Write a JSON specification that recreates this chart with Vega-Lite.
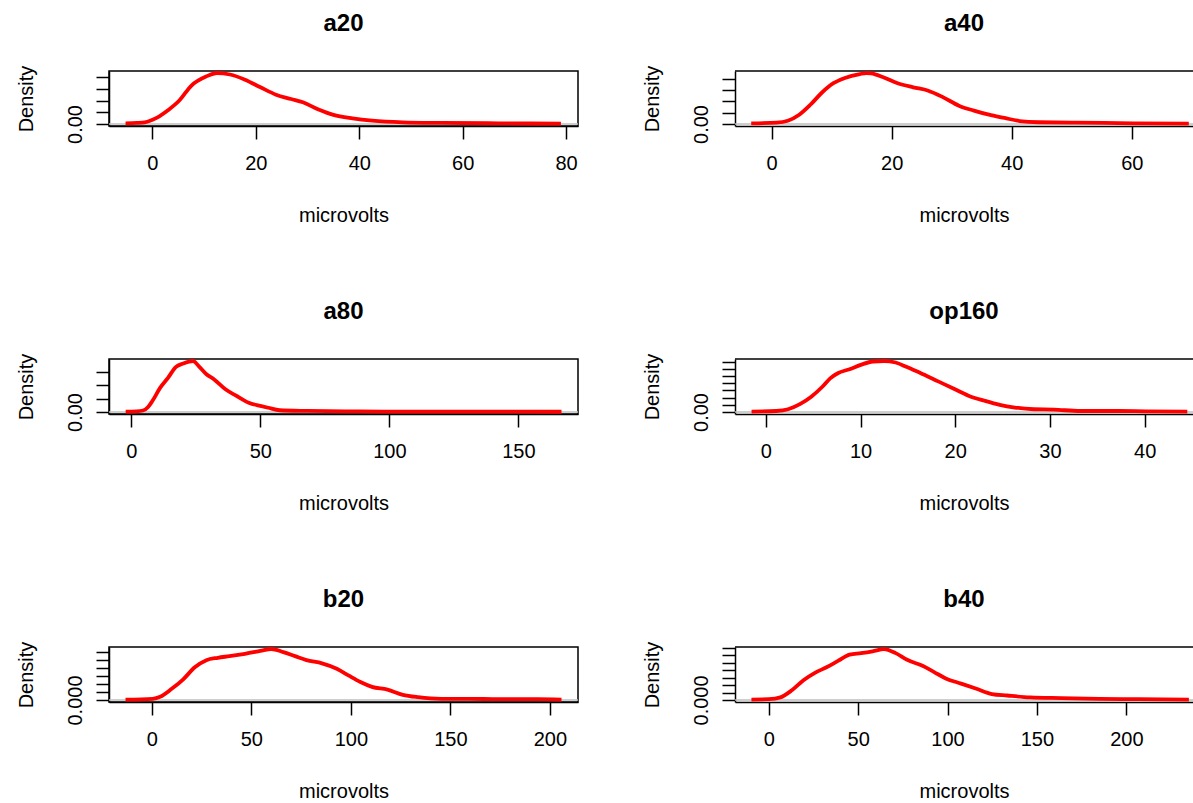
{
  "$schema": "https://vega.github.io/schema/vega-lite/v6.json",
  "padding": {"left": 15, "top": 11, "right": 0, "bottom": 0},
  "background": "white",
  "datasets": {
    "a20": [
      {"mv": -5.2, "density": 0.0006}, {"mv": -3, "density": 0.0009}, {"mv": -1.5, "density": 0.0014},
      {"mv": 0.8, "density": 0.0052}, {"mv": 3.0, "density": 0.0117}, {"mv": 5.2, "density": 0.02},
      {"mv": 7.5, "density": 0.0326}, {"mv": 10.4, "density": 0.0405}, {"mv": 12.5, "density": 0.0435},
      {"mv": 15, "density": 0.0422}, {"mv": 17.9, "density": 0.0378}, {"mv": 20.9, "density": 0.0313},
      {"mv": 23.9, "density": 0.025}, {"mv": 26.8, "density": 0.0213}, {"mv": 29.1, "density": 0.0185},
      {"mv": 32, "density": 0.0126}, {"mv": 35, "density": 0.0078}, {"mv": 38.7, "density": 0.0048},
      {"mv": 42.5, "density": 0.0028}, {"mv": 48.4, "density": 0.0014}, {"mv": 55.9, "density": 0.0009},
      {"mv": 67, "density": 0.0006}, {"mv": 79, "density": 0.0003}
    ],
    "a40": [
      {"mv": -3.4, "density": 0.0006}, {"mv": 0.8, "density": 0.0012}, {"mv": 2.7, "density": 0.0029},
      {"mv": 4.6, "density": 0.0082}, {"mv": 6.5, "density": 0.0172}, {"mv": 8.4, "density": 0.0278},
      {"mv": 10.3, "density": 0.036}, {"mv": 12.2, "density": 0.0406}, {"mv": 14.7, "density": 0.0441},
      {"mv": 15.8, "density": 0.045}, {"mv": 16.6, "density": 0.0446}, {"mv": 18.5, "density": 0.0415},
      {"mv": 21.0, "density": 0.036}, {"mv": 23.6, "density": 0.0324}, {"mv": 26.1, "density": 0.0294},
      {"mv": 28.6, "density": 0.0235}, {"mv": 31.2, "density": 0.0162}, {"mv": 33.7, "density": 0.0118},
      {"mv": 36.2, "density": 0.0082}, {"mv": 38.8, "density": 0.0053}, {"mv": 41.3, "density": 0.0026},
      {"mv": 44.5, "density": 0.0015}, {"mv": 50.8, "density": 0.0012}, {"mv": 60.3, "density": 0.0006},
      {"mv": 69.5, "density": 0.0003}
    ],
    "a80": [
      {"mv": -2.2, "density": 0.0003}, {"mv": 2.0, "density": 0.0005}, {"mv": 4.5, "density": 0.0011},
      {"mv": 6.5, "density": 0.0038}, {"mv": 8.2, "density": 0.0084}, {"mv": 11.2, "density": 0.0183},
      {"mv": 14.2, "density": 0.0256}, {"mv": 17.2, "density": 0.0336}, {"mv": 20.1, "density": 0.0363},
      {"mv": 23.9, "density": 0.0382}, {"mv": 26.1, "density": 0.0344}, {"mv": 29.1, "density": 0.0283},
      {"mv": 32.1, "density": 0.0244}, {"mv": 36.6, "density": 0.0168}, {"mv": 41.0, "density": 0.0118},
      {"mv": 45.5, "density": 0.0069}, {"mv": 50.0, "density": 0.0046}, {"mv": 53.0, "density": 0.0032},
      {"mv": 57.5, "density": 0.0013}, {"mv": 68, "density": 0.0008}, {"mv": 82.8, "density": 0.0005},
      {"mv": 97.8, "density": 0.0003}, {"mv": 127.6, "density": 0.0003}, {"mv": 166.7, "density": 0.0002}
    ],
    "op160": [
      {"mv": -1.5, "density": 0.0005}, {"mv": 1.1, "density": 0.0014}, {"mv": 2.35, "density": 0.0038},
      {"mv": 3.6, "density": 0.0109}, {"mv": 4.8, "density": 0.0213}, {"mv": 6.0, "density": 0.0355},
      {"mv": 6.8, "density": 0.0469}, {"mv": 7.6, "density": 0.054}, {"mv": 8.85, "density": 0.0596},
      {"mv": 10.1, "density": 0.066}, {"mv": 11.3, "density": 0.0703}, {"mv": 12.5, "density": 0.071},
      {"mv": 13.7, "density": 0.0689}, {"mv": 14.9, "density": 0.0625}, {"mv": 16.6, "density": 0.0525},
      {"mv": 18.2, "density": 0.0426}, {"mv": 19.8, "density": 0.0327}, {"mv": 21.4, "density": 0.0227},
      {"mv": 23.1, "density": 0.0156}, {"mv": 24.7, "density": 0.0099}, {"mv": 26.3, "density": 0.0062},
      {"mv": 28.3, "density": 0.0038}, {"mv": 30.4, "density": 0.0033}, {"mv": 33.2, "density": 0.0014},
      {"mv": 37.3, "density": 0.0014}, {"mv": 40.1, "density": 0.0009}, {"mv": 44.5, "density": 0.0005}
    ],
    "b20": [
      {"mv": -13.2, "density": 0.0001}, {"mv": 0.4, "density": 0.0003}, {"mv": 4.2, "density": 0.0008},
      {"mv": 10, "density": 0.0028}, {"mv": 15.8, "density": 0.0052}, {"mv": 21.6, "density": 0.0082},
      {"mv": 27.4, "density": 0.01}, {"mv": 33.2, "density": 0.0106}, {"mv": 39, "density": 0.011},
      {"mv": 46.8, "density": 0.0116}, {"mv": 54.5, "density": 0.0123}, {"mv": 60, "density": 0.0128},
      {"mv": 66.1, "density": 0.012}, {"mv": 71.9, "density": 0.011}, {"mv": 77.7, "density": 0.01},
      {"mv": 85.5, "density": 0.0092}, {"mv": 93.2, "density": 0.0078}, {"mv": 99, "density": 0.0061},
      {"mv": 104.8, "density": 0.0045}, {"mv": 110.6, "density": 0.0033}, {"mv": 118.4, "density": 0.0026},
      {"mv": 126.1, "density": 0.0013}, {"mv": 133.8, "density": 0.0007}, {"mv": 145.4, "density": 0.0003},
      {"mv": 159, "density": 0.0003}, {"mv": 174.4, "density": 0.0002}, {"mv": 193.8, "density": 0.0002},
      {"mv": 205.8, "density": 0.0001}
    ],
    "b40": [
      {"mv": -9.7, "density": 0.0001}, {"mv": 0, "density": 0.0002}, {"mv": 6.5, "density": 0.0007},
      {"mv": 12.9, "density": 0.0026}, {"mv": 19.4, "density": 0.0053}, {"mv": 25.8, "density": 0.0073},
      {"mv": 32.3, "density": 0.0088}, {"mv": 38.7, "density": 0.0105}, {"mv": 45.2, "density": 0.0122},
      {"mv": 51.6, "density": 0.0126}, {"mv": 58.1, "density": 0.0131}, {"mv": 64.5, "density": 0.0137},
      {"mv": 71, "density": 0.0126}, {"mv": 77.4, "density": 0.0108}, {"mv": 86, "density": 0.0092},
      {"mv": 92.5, "density": 0.0075}, {"mv": 99, "density": 0.0058}, {"mv": 107.6, "density": 0.0044},
      {"mv": 116.2, "density": 0.003}, {"mv": 124.8, "density": 0.0016}, {"mv": 133.4, "density": 0.0012},
      {"mv": 146.3, "density": 0.0007}, {"mv": 163.5, "density": 0.0005}, {"mv": 185, "density": 0.0003},
      {"mv": 206.5, "density": 0.0002}, {"mv": 235, "density": 0.0001}
    ]
  },
  "columns": 2,
  "align": "each",
  "bounds": "flush",
  "spacing": {"row": 233, "column": 157},
  "concat": [
    {
      "width": 469, "height": 55, "title": "a20",
      "layer": [
        {"data": {"values": [{}]}, "mark": {"type": "rule", "color": "#BEBEBE", "strokeWidth": 1.5}, "encoding": {"y": {"datum": 0, "type": "quantitative"}}},
        {"data": {"name": "a20"}, "mark": {"type": "line", "color": "#FF0000", "strokeWidth": 3.8, "interpolate": "monotone"},
          "encoding": {
            "x": {"field": "mv", "type": "quantitative", "scale": {"domain": [-8.4, 82.3], "nice": false, "zero": false}, "axis": {"title": "microvolts", "values": [0, 20, 40, 60, 80]}},
            "y": {"field": "density", "type": "quantitative", "scale": {"domain": [-0.0017, 0.0452], "nice": false, "zero": false}, "axis": {"title": "Density", "values": [0, 0.01, 0.02, 0.03, 0.04], "labelExpr": "datum.value === 0 ? '0.00' : ''"}}
          }}
      ]
    },
    {
      "width": 458, "height": 55, "title": "a40", "view": {"stroke": null},
      "layer": [
        {"data": {"values": [{}]}, "mark": {"type": "rule", "color": "#BEBEBE", "strokeWidth": 1.5}, "encoding": {"y": {"datum": 0, "type": "quantitative"}}},
        {"data": {"values": [{}]}, "mark": {"type": "rule", "color": "black", "strokeWidth": 1.5}, "encoding": {"y": {"datum": 0.0468, "type": "quantitative"}}},
        {"data": {"name": "a40"}, "mark": {"type": "line", "color": "#FF0000", "strokeWidth": 3.8, "interpolate": "monotone"},
          "encoding": {
            "x": {"field": "mv", "type": "quantitative", "scale": {"domain": [-6.1, 70.2], "nice": false, "zero": false}, "axis": {"title": "microvolts", "values": [0, 20, 40, 60]}},
            "y": {"field": "density", "type": "quantitative", "scale": {"domain": [-0.0018, 0.0468], "nice": false, "zero": false}, "axis": {"title": "Density", "values": [0, 0.01, 0.02, 0.03, 0.04], "labelExpr": "datum.value === 0 ? '0.00' : ''"}}
          }}
      ]
    },
    {
      "width": 469, "height": 55, "title": "a80",
      "layer": [
        {"data": {"values": [{}]}, "mark": {"type": "rule", "color": "#BEBEBE", "strokeWidth": 1.5}, "encoding": {"y": {"datum": 0, "type": "quantitative"}}},
        {"data": {"name": "a80"}, "mark": {"type": "line", "color": "#FF0000", "strokeWidth": 3.8, "interpolate": "monotone"},
          "encoding": {
            "x": {"field": "mv", "type": "quantitative", "scale": {"domain": [-8.66, 173.1], "nice": false, "zero": false}, "axis": {"title": "microvolts", "values": [0, 50, 100, 150]}},
            "y": {"field": "density", "type": "quantitative", "scale": {"domain": [-0.0015, 0.0397], "nice": false, "zero": false}, "axis": {"title": "Density", "values": [0, 0.01, 0.02, 0.03], "labelExpr": "datum.value === 0 ? '0.00' : ''"}}
          }}
      ]
    },
    {
      "width": 458, "height": 55, "title": "op160", "view": {"stroke": null},
      "layer": [
        {"data": {"values": [{}]}, "mark": {"type": "rule", "color": "#BEBEBE", "strokeWidth": 1.5}, "encoding": {"y": {"datum": 0, "type": "quantitative"}}},
        {"data": {"values": [{}]}, "mark": {"type": "rule", "color": "black", "strokeWidth": 1.5}, "encoding": {"y": {"datum": 0.0738, "type": "quantitative"}}},
        {"data": {"name": "op160"}, "mark": {"type": "line", "color": "#FF0000", "strokeWidth": 3.8, "interpolate": "monotone"},
          "encoding": {
            "x": {"field": "mv", "type": "quantitative", "scale": {"domain": [-3.25, 45.1], "nice": false, "zero": false}, "axis": {"title": "microvolts", "values": [0, 10, 20, 30, 40]}},
            "y": {"field": "density", "type": "quantitative", "scale": {"domain": [-0.0028, 0.0738], "nice": false, "zero": false}, "axis": {"title": "Density", "values": [0, 0.01, 0.02, 0.03, 0.04, 0.05, 0.06, 0.07], "labelExpr": "datum.value === 0 ? '0.00' : ''"}}
          }}
      ]
    },
    {
      "width": 469, "height": 55, "title": "b20",
      "layer": [
        {"data": {"values": [{}]}, "mark": {"type": "rule", "color": "#BEBEBE", "strokeWidth": 1.5}, "encoding": {"y": {"datum": 0, "type": "quantitative"}}},
        {"data": {"name": "b20"}, "mark": {"type": "line", "color": "#FF0000", "strokeWidth": 3.8, "interpolate": "monotone"},
          "encoding": {
            "x": {"field": "mv", "type": "quantitative", "scale": {"domain": [-21.5, 214.1], "nice": false, "zero": false}, "axis": {"title": "microvolts", "values": [0, 50, 100, 150, 200]}},
            "y": {"field": "density", "type": "quantitative", "scale": {"domain": [-0.0005, 0.0133], "nice": false, "zero": false}, "axis": {"title": "Density", "values": [0, 0.002, 0.004, 0.006, 0.008, 0.01, 0.012], "labelExpr": "datum.value === 0 ? '0.000' : ''"}}
          }}
      ]
    },
    {
      "width": 458, "height": 55, "title": "b40", "view": {"stroke": null},
      "layer": [
        {"data": {"values": [{}]}, "mark": {"type": "rule", "color": "#BEBEBE", "strokeWidth": 1.5}, "encoding": {"y": {"datum": 0, "type": "quantitative"}}},
        {"data": {"values": [{}]}, "mark": {"type": "rule", "color": "black", "strokeWidth": 1.5}, "encoding": {"y": {"datum": 0.01425, "type": "quantitative"}}},
        {"data": {"name": "b40"}, "mark": {"type": "line", "color": "#FF0000", "strokeWidth": 3.8, "interpolate": "monotone"},
          "encoding": {
            "x": {"field": "mv", "type": "quantitative", "scale": {"domain": [-18.9, 237.3], "nice": false, "zero": false}, "axis": {"title": "microvolts", "values": [0, 50, 100, 150, 200]}},
            "y": {"field": "density", "type": "quantitative", "scale": {"domain": [-0.00055, 0.01425], "nice": false, "zero": false}, "axis": {"title": "Density", "values": [0, 0.002, 0.004, 0.006, 0.008, 0.01, 0.012, 0.014], "labelExpr": "datum.value === 0 ? '0.000' : ''"}}
          }}
      ]
    }
  ],
  "config": {
    "view": {"stroke": "black", "strokeWidth": 1.5},
    "axis": {
      "grid": false, "domain": true, "domainColor": "black", "domainWidth": 1.5,
      "ticks": true, "tickColor": "black", "tickWidth": 1.5, "tickSize": 13, "tickCount": 30,
      "labelFont": "Liberation Sans", "labelFontSize": 20, "labelColor": "black",
      "titleFont": "Liberation Sans", "titleFontSize": 20, "titleFontWeight": "normal", "titleColor": "black",
      "labelFlush": false, "labelOverlap": false, "labelBound": false
    },
    "axisX": {"labelPadding": 14, "labelBaseline": "top", "labelAngle": 0, "titleY": 89, "titleBaseline": "middle"},
    "axisY": {"labelAngle": 270, "labelAlign": "center", "labelBaseline": "bottom", "labelPadding": 11, "titleX": -83, "titleY": 27.5, "titleBaseline": "middle", "titleAngle": 270, "titleAlign": "center"},
    "title": {"font": "Liberation Sans", "fontSize": 24, "fontWeight": "bold", "color": "black", "baseline": "alphabetic", "offset": 29, "anchor": "middle"}
  }
}
